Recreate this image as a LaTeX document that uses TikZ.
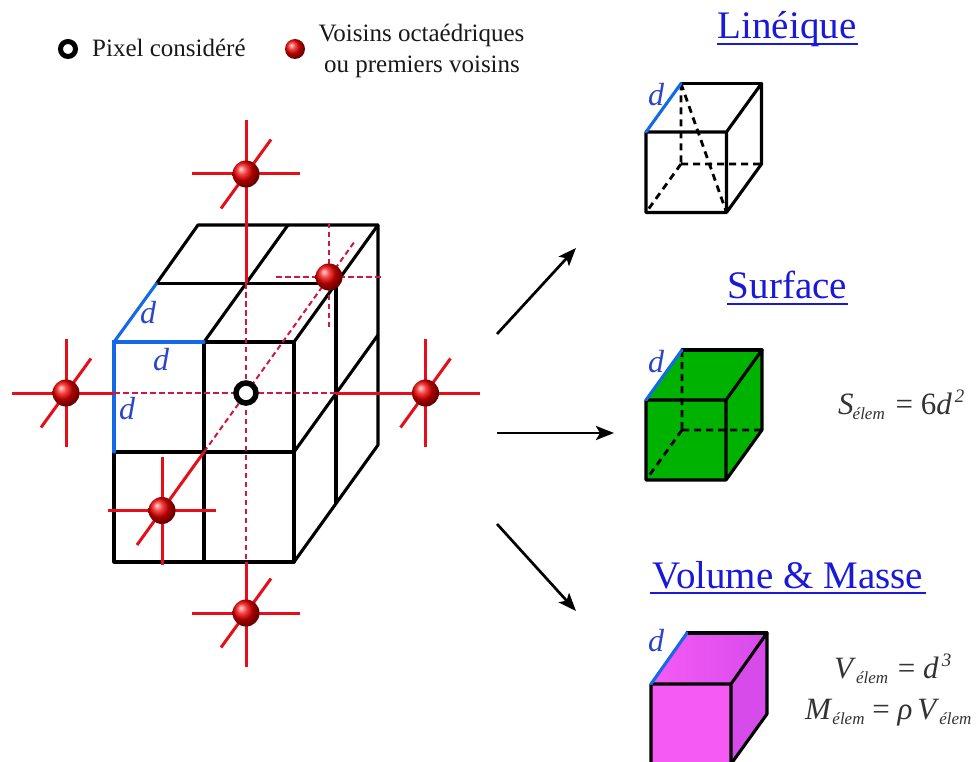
\documentclass[tikz,border=0pt]{standalone}
\usepackage{fontspec}
\setmainfont{Liberation Serif}
\usetikzlibrary{arrows.meta,calc}
\definecolor{redline}{RGB}{228,15,25}
\definecolor{reddash}{RGB}{205,25,65}
\definecolor{bluedge}{RGB}{20,105,230}
\definecolor{bluetxt}{RGB}{45,70,200}
\definecolor{titleblue}{RGB}{25,25,215}
\definecolor{cgreen}{RGB}{0,178,0}
\definecolor{cmag}{RGB}{245,90,245}
\definecolor{cmagd}{RGB}{215,75,235}
\newcommand{\subt}[1]{\raisebox{-5pt}{\fontsize{17}{17}\selectfont\textit{#1}}}
\newcommand{\supt}[1]{\raisebox{12pt}{\fontsize{19}{19}\selectfont\textit{#1}}}
\tikzset{
  blk/.style={draw=black,line width=3.1pt,line join=round,line cap=round},
  blkd/.style={draw=black,line width=2.8pt,dash pattern=on 7pt off 5pt},
  blu/.style={draw=bluedge,line width=3.1pt,line cap=round},
  solidred/.style={draw=redline,line width=3pt},
  dashred/.style={draw=reddash,line width=2pt,dash pattern=on 5.5pt off 3.5pt},
  ballnode/.style={circle,inner sep=0pt,minimum size=27pt,ball color=red!95!black,shading=ball},
  ballsmall/.style={circle,inner sep=0pt,minimum size=20pt,ball color=red!95!black,shading=ball},
  ringnode/.style={circle,draw=black,fill=white,line width=5.5pt,inner sep=0pt,minimum size=20pt},
  ringsmall/.style={circle,draw=black,fill=white,line width=5pt,inner sep=0pt,minimum size=15pt},
  dlab/.style={text=bluetxt,font=\fontsize{32}{32}\selectfont\itshape,inner sep=0pt},
  ttl/.style={text=titleblue,font=\fontsize{39}{39}\selectfont,inner sep=0pt,anchor=base},
  ulin/.style={draw=titleblue,line width=1.6pt},
  lgd/.style={font=\fontsize{25}{25}\selectfont,inner sep=0pt,anchor=base,text=black!90},
  eqn/.style={font=\fontsize{31}{31}\selectfont,inner sep=0pt,anchor=base,text=black!80},
  arr/.style={draw=black,line width=2.7pt,-{Stealth[length=18pt,width=14pt,inset=4pt]}},
}
\begin{document}
\begin{tikzpicture}[x=1pt,y=-1pt]
\useasboundingbox (0,0) rectangle (978,762);
\clip (0,0) rectangle (978,762);
\fill[white] (0,0) rectangle (978,762);
% legend
\node[ringsmall] (lring) at (68,49) {};
\node[lgd,anchor=base west] (lpix) at (92,57) {Pixel considéré};
\node[ballsmall] (lball) at (295,49) {};
\node[lgd] (lv1) at (421.5,42) {Voisins octaédriques};
\node[lgd] (lv2) at (422,73) {ou premiers voisins};
% grid vertices
\foreach \n/\x/\y in {fa/114/342,fb/204/342,fc/294/342,fd/114/452,fe/204/452,ff/294/452,fg/114/562,fh/204/562,fi/294/562,
 ma/156.5/283.5,mb/246/283.5,mc/336/283.5,md/336/393,me/336/502.5,
 ba/198/225,bb/288/225,bc/378/225,bd/378/335,be/378/445}
  {\coordinate (\n) at (\x,\y);}
\draw[blk] (fb) -- (fc) -- (fi) -- (fg) -- (fd);
\draw[blk] (fd) -- (ff);
\draw[blk] (fb) -- (fh);
\draw[blk] (ma) -- (ba) -- (bc) -- (be) -- (fi);
\draw[blk] (ma) -- (mc) -- (me);
\draw[blk] (fb) -- (bb);
\draw[blk] (fc) -- (bc);
\draw[blk] (ff) -- (bd);
\draw[blu] (fd) -- (fa) -- (fb);
\draw[blu] (fa) -- (ma);
\node[dlab] (d1) at (148,313) {d};
\node[dlab] (d2) at (161,360) {d};
\node[dlab] (d3) at (127,409) {d};
% centre and neighbours positions
\coordinate (ctr) at (246,393);
\coordinate (ptop) at (246,174);
\coordinate (pbot) at (246,613);
\coordinate (pleft) at (66,393);
\coordinate (pright) at (425.5,393);
\coordinate (pfront) at (162,510.5);
\coordinate (pback) at (329,277);
% dashed links
\draw[dashred] (fa |- ctr) -- (md);
\draw[dashred] (mb) -- (246,562);
\draw[dashred] (fe) -- ($(pback)+(26,-36)$);
\draw[dashred] ($(pback)+(-53,0)$) -- ($(pback)+(54,0)$);
\draw[dashred] ($(pback)+(0,-54)$) -- ($(pback)+(0,54)$);
% solid arms
\draw[solidred] ($(ptop)+(0,-54)$) -- (mb);
\draw[solidred] ($(ptop)+(-54,0)$) -- ($(ptop)+(54,0)$);
\draw[solidred] ($(ptop)+(-25,34.5)$) -- ($(ptop)+(25,-34.5)$);
\draw[solidred] (246,562) -- ($(pbot)+(0,54)$);
\draw[solidred] ($(pbot)+(-54,0)$) -- ($(pbot)+(54,0)$);
\draw[solidred] ($(pbot)+(-25,34.5)$) -- ($(pbot)+(25,-34.5)$);
\draw[solidred] ($(pleft)+(-54,0)$) -- (fa |- ctr);
\draw[solidred] ($(pleft)+(0,-54)$) -- ($(pleft)+(0,54)$);
\draw[solidred] ($(pleft)+(-25,34.5)$) -- ($(pleft)+(25,-34.5)$);
\draw[solidred] (md) -- ($(pright)+(54,0)$);
\draw[solidred] ($(pright)+(0,-54)$) -- ($(pright)+(0,54)$);
\draw[solidred] ($(pright)+(-25,34.5)$) -- ($(pright)+(25,-34.5)$);
\draw[solidred] ($(pfront)+(-54,0)$) -- ($(pfront)+(54,0)$);
\draw[solidred] ($(pfront)+(0,-54)$) -- ($(pfront)+(0,54)$);
\draw[solidred] ($(pfront)+(-25,34.5)$) -- (fe);
% balls
\node[ringnode] (nc) at (ctr) {};
\foreach \p in {ptop,pbot,pleft,pright,pfront,pback} {\node[ballnode] (n\p) at (\p) {};}
% arrows
\coordinate (a1s) at (497,334); \coordinate (a1e) at (576,248);
\coordinate (a2s) at (497,433); \coordinate (a2e) at (614,433);
\coordinate (a3s) at (497,524); \coordinate (a3e) at (576,611);
\draw[arr] (a1s) -- (a1e);
\draw[arr] (a2s) -- (a2e);
\draw[arr] (a3s) -- (a3e);
% titles
\node[ttl] (t1) at (787,39) {Linéique};
\draw[ulin] (717,44) -- (858,44);
\node[ttl] (t2) at (787.5,299) {Surface};
\draw[ulin] (727,304) -- (848,304);
\node[ttl] (t3) at (788,588) {Volume \& Masse};
\draw[ulin] (650,593) -- (926,593);
% cube 1
\foreach \n/\x/\y in {a/646/132,b/726.5/132,c/726.5/212.5,d/646/212.5,e/681/83.5,f/761.5/83.5,g/761.5/164,h/681/164}
  {\coordinate (A\n) at (\x,\y);}
\draw[blkd] (Ae) -- (Ah) (Ah) -- (Ag) (Ah) -- (Ad) (Ae) -- (Ac);
\draw[blk] (Ab) -- (Aa) -- (Ad) -- (Ac) -- (Ab) -- (Af) -- (Ag) -- (Ac);
\draw[blk] (Ae) -- (Af);
\draw[blu] (Aa) -- (Ae);
\node[dlab] (d4) at (656,95) {d};
% cube 2
\foreach \n/\x/\y in {a/646/400,b/726/400,c/726/480,d/646/480,e/682/350,f/762/350,g/762/430,h/682/430}
  {\coordinate (B\n) at (\x,\y);}
\fill[cgreen] (Ba) -- (Be) -- (Bf) -- (Bg) -- (Bc) -- (Bd) -- cycle;
\draw[blkd] (Be) -- (Bh) (Bh) -- (Bg) (Bh) -- (Bd);
\draw[blk] (Bb) -- (Ba) -- (Bd) -- (Bc) -- (Bb) -- (Bf) -- (Bg) -- (Bc);
\draw[blk] (Be) -- (Bf);
\draw[blu] (Ba) -- (Be);
\node[dlab] (d5) at (656,362) {d};
\node[eqn,anchor=base west] (e1) at (838,414) {\textit{S}\kern-1pt\subt{élem}\kern3pt{} = 6\textit{d}\kern3pt\supt{2}};
% cube 3
\foreach \n/\x/\y in {a/651/684,b/731/684,c/731/764,d/651/764,e/687/633,f/767/633,g/767/714}
  {\coordinate (C\n) at (\x,\y);}
\fill[cmag] (Ca) -- (Cb) -- (Cc) -- (Cd) -- cycle;
\shade[left color=cmag,right color=cmagd] (Ca) -- (Ce) -- (Cf) -- (Cb) -- cycle;
\fill[cmagd] (Cb) -- (Cf) -- (Cg) -- (Cc) -- cycle;
\draw[blk] (Cd) -- (Ca) -- (Cb) -- (Cc) (Cb) -- (Cf) -- (Cg) -- (Cc);
\draw[blk] (Ce) -- (Cf);
\draw[blu] (Ca) -- (Ce);
\node[dlab] (d6) at (656,641) {d};
\node[eqn,anchor=base west] (e2) at (834,678) {\textit{V}\subt{élem}\kern2pt{} = \textit{d}\kern3pt\supt{3}};
\node[eqn,anchor=base west] (e3) at (805,719) {\textit{M}\subt{élem} = \textit{ρ}\kern5pt\textit{V}\subt{élem}};
\end{tikzpicture}
\end{document}
